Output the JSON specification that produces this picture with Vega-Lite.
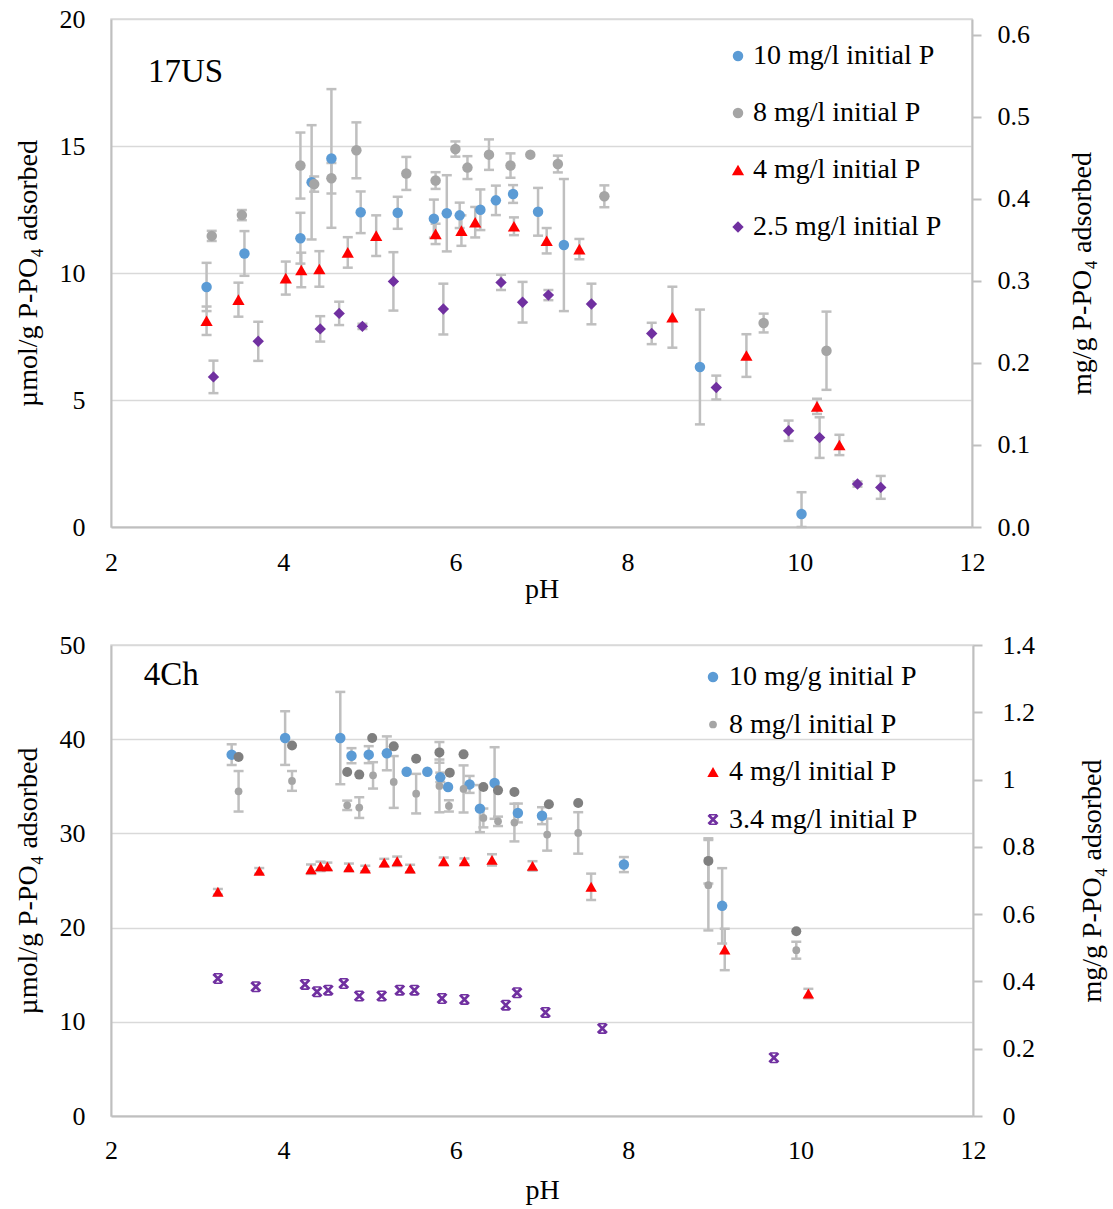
{
  "$schema": "https://vega.github.io/schema/vega-lite/v6.json",
  "padding": {"left": 13, "top": 5, "right": 5, "bottom": 3},
  "background": "white",
  "datasets": {
    "top": [
      {"s": "10 mg/l initial P", "pH": 3.11, "v": 9.45, "lo": 8.5, "hi": 10.4},
      {"s": "10 mg/l initial P", "pH": 3.55, "v": 10.77, "lo": 9.89, "hi": 11.65},
      {"s": "10 mg/l initial P", "pH": 4.2, "v": 11.37, "lo": 10.37, "hi": 12.37},
      {"s": "10 mg/l initial P", "pH": 4.33, "v": 13.57, "lo": 11.32, "hi": 15.82},
      {"s": "10 mg/l initial P", "pH": 4.56, "v": 14.51, "lo": 11.78, "hi": 17.24},
      {"s": "10 mg/l initial P", "pH": 4.9, "v": 12.39, "lo": 11.57, "hi": 13.21},
      {"s": "10 mg/l initial P", "pH": 5.33, "v": 12.37, "lo": 11.74, "hi": 13.0},
      {"s": "10 mg/l initial P", "pH": 5.75, "v": 12.14, "lo": 11.39, "hi": 12.89},
      {"s": "10 mg/l initial P", "pH": 5.9, "v": 12.35, "lo": 10.85, "hi": 13.85},
      {"s": "10 mg/l initial P", "pH": 6.05, "v": 12.27, "lo": 11.77, "hi": 12.77},
      {"s": "10 mg/l initial P", "pH": 6.29, "v": 12.49, "lo": 11.69, "hi": 13.29},
      {"s": "10 mg/l initial P", "pH": 6.47, "v": 12.86, "lo": 12.28, "hi": 13.44},
      {"s": "10 mg/l initial P", "pH": 6.67, "v": 13.11, "lo": 12.76, "hi": 13.46},
      {"s": "10 mg/l initial P", "pH": 6.96, "v": 12.41, "lo": 11.47, "hi": 13.35},
      {"s": "10 mg/l initial P", "pH": 7.26, "v": 11.1, "lo": 8.5, "hi": 13.7},
      {"s": "10 mg/l initial P", "pH": 8.84, "v": 6.3, "lo": 4.04, "hi": 8.56},
      {"s": "10 mg/l initial P", "pH": 10.02, "v": 0.51, "lo": 0, "hi": 1.37},
      {"s": "8 mg/l initial P", "pH": 3.17, "v": 11.46, "lo": 11.26, "hi": 11.66},
      {"s": "8 mg/l initial P", "pH": 3.52, "v": 12.28, "lo": 12.08, "hi": 12.48},
      {"s": "8 mg/l initial P", "pH": 4.2, "v": 14.23, "lo": 12.93, "hi": 15.53},
      {"s": "8 mg/l initial P", "pH": 4.36, "v": 13.5, "lo": 13.2, "hi": 13.8},
      {"s": "8 mg/l initial P", "pH": 4.56, "v": 13.73, "lo": 13.13, "hi": 14.33},
      {"s": "8 mg/l initial P", "pH": 4.85, "v": 14.83, "lo": 13.73, "hi": 15.93},
      {"s": "8 mg/l initial P", "pH": 5.43, "v": 13.92, "lo": 13.27, "hi": 14.57},
      {"s": "8 mg/l initial P", "pH": 5.77, "v": 13.64, "lo": 13.31, "hi": 13.97},
      {"s": "8 mg/l initial P", "pH": 6.0, "v": 14.88, "lo": 14.58, "hi": 15.18},
      {"s": "8 mg/l initial P", "pH": 6.14, "v": 14.15, "lo": 13.7, "hi": 14.6},
      {"s": "8 mg/l initial P", "pH": 6.39, "v": 14.66, "lo": 14.06, "hi": 15.26},
      {"s": "8 mg/l initial P", "pH": 6.64, "v": 14.23, "lo": 13.75, "hi": 14.71},
      {"s": "8 mg/l initial P", "pH": 6.87, "v": 14.66},
      {"s": "8 mg/l initial P", "pH": 7.19, "v": 14.29, "lo": 13.96, "hi": 14.62},
      {"s": "8 mg/l initial P", "pH": 7.73, "v": 13.02, "lo": 12.59, "hi": 13.45},
      {"s": "8 mg/l initial P", "pH": 9.58, "v": 8.03, "lo": 7.66, "hi": 8.4},
      {"s": "8 mg/l initial P", "pH": 10.31, "v": 6.94, "lo": 5.4, "hi": 8.48},
      {"s": "4 mg/l initial P", "pH": 3.11, "v": 8.12, "lo": 7.56, "hi": 8.68},
      {"s": "4 mg/l initial P", "pH": 3.48, "v": 8.95, "lo": 8.28, "hi": 9.62},
      {"s": "4 mg/l initial P", "pH": 4.03, "v": 9.8, "lo": 9.15, "hi": 10.45},
      {"s": "4 mg/l initial P", "pH": 4.21, "v": 10.12, "lo": 9.44, "hi": 10.8},
      {"s": "4 mg/l initial P", "pH": 4.42, "v": 10.16, "lo": 9.46, "hi": 10.86},
      {"s": "4 mg/l initial P", "pH": 4.75, "v": 10.81, "lo": 10.21, "hi": 11.41},
      {"s": "4 mg/l initial P", "pH": 5.08, "v": 11.47, "lo": 10.67, "hi": 12.27},
      {"s": "4 mg/l initial P", "pH": 5.77, "v": 11.54, "lo": 11.14, "hi": 11.94},
      {"s": "4 mg/l initial P", "pH": 6.07, "v": 11.67, "lo": 11.07, "hi": 12.27},
      {"s": "4 mg/l initial P", "pH": 6.23, "v": 12.0, "lo": 11.4, "hi": 12.6},
      {"s": "4 mg/l initial P", "pH": 6.68, "v": 11.84, "lo": 11.49, "hi": 12.19},
      {"s": "4 mg/l initial P", "pH": 7.06, "v": 11.27, "lo": 10.77, "hi": 11.77},
      {"s": "4 mg/l initial P", "pH": 7.44, "v": 10.94, "lo": 10.54, "hi": 11.34},
      {"s": "4 mg/l initial P", "pH": 8.52, "v": 8.26, "lo": 7.06, "hi": 9.46},
      {"s": "4 mg/l initial P", "pH": 9.38, "v": 6.75, "lo": 5.91, "hi": 7.59},
      {"s": "4 mg/l initial P", "pH": 10.2, "v": 4.75, "lo": 4.45, "hi": 5.05},
      {"s": "4 mg/l initial P", "pH": 10.46, "v": 3.23, "lo": 2.83, "hi": 3.63},
      {"s": "2.5 mg/l initial P", "pH": 3.19, "v": 5.91, "lo": 5.27, "hi": 6.55},
      {"s": "2.5 mg/l initial P", "pH": 3.71, "v": 7.31, "lo": 6.54, "hi": 8.08},
      {"s": "2.5 mg/l initial P", "pH": 4.43, "v": 7.8, "lo": 7.3, "hi": 8.3},
      {"s": "2.5 mg/l initial P", "pH": 4.65, "v": 8.41, "lo": 7.95, "hi": 8.87},
      {"s": "2.5 mg/l initial P", "pH": 4.92, "v": 7.9, "lo": 7.8, "hi": 8.0},
      {"s": "2.5 mg/l initial P", "pH": 5.28, "v": 9.67, "lo": 8.52, "hi": 10.82},
      {"s": "2.5 mg/l initial P", "pH": 5.86, "v": 8.58, "lo": 7.58, "hi": 9.58},
      {"s": "2.5 mg/l initial P", "pH": 6.53, "v": 9.63, "lo": 9.33, "hi": 9.93},
      {"s": "2.5 mg/l initial P", "pH": 6.78, "v": 8.85, "lo": 8.05, "hi": 9.65},
      {"s": "2.5 mg/l initial P", "pH": 7.08, "v": 9.13, "lo": 8.93, "hi": 9.33},
      {"s": "2.5 mg/l initial P", "pH": 7.58, "v": 8.78, "lo": 7.98, "hi": 9.58},
      {"s": "2.5 mg/l initial P", "pH": 8.28, "v": 7.62, "lo": 7.2, "hi": 8.04},
      {"s": "2.5 mg/l initial P", "pH": 9.03, "v": 5.49, "lo": 5.02, "hi": 5.96},
      {"s": "2.5 mg/l initial P", "pH": 9.87, "v": 3.79, "lo": 3.39, "hi": 4.19},
      {"s": "2.5 mg/l initial P", "pH": 10.23, "v": 3.52, "lo": 2.72, "hi": 4.32},
      {"s": "2.5 mg/l initial P", "pH": 10.67, "v": 1.69, "lo": 1.59, "hi": 1.79},
      {"s": "2.5 mg/l initial P", "pH": 10.94, "v": 1.56, "lo": 1.11, "hi": 2.01}
    ],
    "bot": [
      {"s": "10 mg/g initial P", "pH": 3.4, "v": 38.36, "lo": 37.26, "hi": 39.46},
      {"s": "10 mg/g initial P", "pH": 4.02, "v": 40.12, "lo": 37.27, "hi": 42.97},
      {"s": "10 mg/g initial P", "pH": 4.66, "v": 40.12, "lo": 35.22, "hi": 45.02},
      {"s": "10 mg/g initial P", "pH": 4.79, "v": 38.25, "lo": 37.45, "hi": 39.05},
      {"s": "10 mg/g initial P", "pH": 4.99, "v": 38.36, "lo": 37.46, "hi": 39.26},
      {"s": "10 mg/g initial P", "pH": 5.2, "v": 38.5, "lo": 36.7, "hi": 40.3},
      {"s": "10 mg/g initial P", "pH": 5.43, "v": 36.55},
      {"s": "10 mg/g initial P", "pH": 5.67, "v": 36.55},
      {"s": "10 mg/g initial P", "pH": 5.82, "v": 35.95, "lo": 35.45, "hi": 36.45},
      {"s": "10 mg/g initial P", "pH": 5.91, "v": 34.93},
      {"s": "10 mg/g initial P", "pH": 6.16, "v": 35.2, "lo": 34.3, "hi": 36.1},
      {"s": "10 mg/g initial P", "pH": 6.28, "v": 32.63, "lo": 30.13, "hi": 35.13},
      {"s": "10 mg/g initial P", "pH": 6.45, "v": 35.35, "lo": 31.55, "hi": 39.15},
      {"s": "10 mg/g initial P", "pH": 6.72, "v": 32.17, "lo": 31.17, "hi": 33.17},
      {"s": "10 mg/g initial P", "pH": 7.0, "v": 31.88, "lo": 30.98, "hi": 32.78},
      {"s": "10 mg/g initial P", "pH": 7.95, "v": 26.69, "lo": 25.89, "hi": 27.49},
      {"s": "10 mg/g initial P", "pH": 9.09, "v": 22.31, "lo": 18.31, "hi": 26.31},
      {"s": "8 mg/l initial P", "pH": 3.48, "v": 34.47, "lo": 32.32, "hi": 36.62},
      {"s": "8 mg/l initial P", "pH": 4.1, "v": 35.57, "lo": 34.52, "hi": 36.62},
      {"s": "8 mg/l initial P", "pH": 4.74, "v": 32.98, "lo": 32.48, "hi": 33.48},
      {"s": "8 mg/l initial P", "pH": 4.88, "v": 32.74, "lo": 31.64, "hi": 33.84},
      {"s": "8 mg/l initial P", "pH": 5.04, "v": 36.16, "lo": 34.76, "hi": 37.56},
      {"s": "8 mg/l initial P", "pH": 5.28, "v": 35.46, "lo": 32.71, "hi": 38.21},
      {"s": "8 mg/l initial P", "pH": 5.54, "v": 34.22, "lo": 32.12, "hi": 36.32},
      {"s": "8 mg/l initial P", "pH": 5.81, "v": 35.04, "lo": 32.24, "hi": 37.84},
      {"s": "8 mg/l initial P", "pH": 5.92, "v": 32.92, "lo": 32.32, "hi": 33.52},
      {"s": "8 mg/l initial P", "pH": 6.09, "v": 34.72, "lo": 32.22, "hi": 37.22},
      {"s": "8 mg/l initial P", "pH": 6.32, "v": 31.64, "lo": 30.64, "hi": 32.64},
      {"s": "8 mg/l initial P", "pH": 6.49, "v": 31.28, "lo": 30.78, "hi": 31.78},
      {"s": "8 mg/l initial P", "pH": 6.68, "v": 31.15, "lo": 29.15, "hi": 33.15},
      {"s": "8 mg/l initial P", "pH": 7.06, "v": 29.87, "lo": 28.17, "hi": 31.57},
      {"s": "8 mg/l initial P", "pH": 7.42, "v": 30.05, "lo": 27.85, "hi": 32.25},
      {"s": "8 mg/l initial P", "pH": 8.93, "v": 24.5, "lo": 19.7, "hi": 29.3},
      {"s": "8 mg/l initial P", "pH": 9.95, "v": 17.6, "lo": 16.7, "hi": 18.5},
      {"s": "8 mg/l initial P (2)", "pH": 3.48, "v": 38.11},
      {"s": "8 mg/l initial P (2)", "pH": 4.1, "v": 39.34},
      {"s": "8 mg/l initial P (2)", "pH": 4.74, "v": 36.52},
      {"s": "8 mg/l initial P (2)", "pH": 4.88, "v": 36.24},
      {"s": "8 mg/l initial P (2)", "pH": 5.03, "v": 40.12},
      {"s": "8 mg/l initial P (2)", "pH": 5.28, "v": 39.24},
      {"s": "8 mg/l initial P (2)", "pH": 5.54, "v": 37.93},
      {"s": "8 mg/l initial P (2)", "pH": 5.81, "v": 38.6, "lo": 37.5, "hi": 39.7},
      {"s": "8 mg/l initial P (2)", "pH": 5.93, "v": 36.45},
      {"s": "8 mg/l initial P (2)", "pH": 6.09, "v": 38.39},
      {"s": "8 mg/l initial P (2)", "pH": 6.32, "v": 34.93},
      {"s": "8 mg/l initial P (2)", "pH": 6.49, "v": 34.57},
      {"s": "8 mg/l initial P (2)", "pH": 6.68, "v": 34.4},
      {"s": "8 mg/l initial P (2)", "pH": 7.08, "v": 33.09},
      {"s": "8 mg/l initial P (2)", "pH": 7.42, "v": 33.23},
      {"s": "8 mg/l initial P (2)", "pH": 8.93, "v": 27.08, "lo": 24.68, "hi": 29.48},
      {"s": "8 mg/l initial P (2)", "pH": 9.95, "v": 19.62},
      {"s": "4 mg/l initial P", "pH": 3.24, "v": 23.8, "lo": 23.5, "hi": 24.1},
      {"s": "4 mg/l initial P", "pH": 3.72, "v": 26.02, "lo": 25.72, "hi": 26.32},
      {"s": "4 mg/l initial P", "pH": 4.32, "v": 26.2, "lo": 25.7, "hi": 26.7},
      {"s": "4 mg/l initial P", "pH": 4.43, "v": 26.5, "lo": 26.0, "hi": 27.0},
      {"s": "4 mg/l initial P", "pH": 4.51, "v": 26.5, "lo": 26.1, "hi": 26.9},
      {"s": "4 mg/l initial P", "pH": 4.76, "v": 26.4, "lo": 26.0, "hi": 26.8},
      {"s": "4 mg/l initial P", "pH": 4.95, "v": 26.27, "lo": 25.97, "hi": 26.57},
      {"s": "4 mg/l initial P", "pH": 5.17, "v": 26.9, "lo": 26.5, "hi": 27.3},
      {"s": "4 mg/l initial P", "pH": 5.32, "v": 27.04, "lo": 26.54, "hi": 27.54},
      {"s": "4 mg/l initial P", "pH": 5.47, "v": 26.27, "lo": 25.87, "hi": 26.67},
      {"s": "4 mg/l initial P", "pH": 5.86, "v": 27.04, "lo": 26.64, "hi": 27.44},
      {"s": "4 mg/l initial P", "pH": 6.1, "v": 27.04, "lo": 26.74, "hi": 27.34},
      {"s": "4 mg/l initial P", "pH": 6.42, "v": 27.19, "lo": 26.59, "hi": 27.79},
      {"s": "4 mg/l initial P", "pH": 6.89, "v": 26.55, "lo": 26.05, "hi": 27.05},
      {"s": "4 mg/l initial P", "pH": 7.57, "v": 24.33, "lo": 22.93, "hi": 25.73},
      {"s": "4 mg/l initial P", "pH": 9.12, "v": 17.68, "lo": 15.48, "hi": 19.88},
      {"s": "4 mg/l initial P", "pH": 10.09, "v": 13.0, "lo": 12.5, "hi": 13.5},
      {"s": "3.4 mg/l initial P", "pH": 3.24, "v": 14.6},
      {"s": "3.4 mg/l initial P", "pH": 3.68, "v": 13.72},
      {"s": "3.4 mg/l initial P", "pH": 4.25, "v": 13.97},
      {"s": "3.4 mg/l initial P", "pH": 4.39, "v": 13.19},
      {"s": "3.4 mg/l initial P", "pH": 4.52, "v": 13.36},
      {"s": "3.4 mg/l initial P", "pH": 4.7, "v": 14.07},
      {"s": "3.4 mg/l initial P", "pH": 4.88, "v": 12.73},
      {"s": "3.4 mg/l initial P", "pH": 5.14, "v": 12.73},
      {"s": "3.4 mg/l initial P", "pH": 5.35, "v": 13.36},
      {"s": "3.4 mg/l initial P", "pH": 5.52, "v": 13.36},
      {"s": "3.4 mg/l initial P", "pH": 5.84, "v": 12.48},
      {"s": "3.4 mg/l initial P", "pH": 6.1, "v": 12.38},
      {"s": "3.4 mg/l initial P", "pH": 6.58, "v": 11.77},
      {"s": "3.4 mg/l initial P", "pH": 6.71, "v": 13.08},
      {"s": "3.4 mg/l initial P", "pH": 7.04, "v": 11.0},
      {"s": "3.4 mg/l initial P", "pH": 7.7, "v": 9.3},
      {"s": "3.4 mg/l initial P", "pH": 9.69, "v": 6.19}
    ]
  },
  "spacing": 27,
  "vconcat": [
    {
      "width": 861,
      "height": 508,
      "layer": [
        {
          "data": {"name": "top"},
          "encoding": {
            "x": {"field": "pH", "type": "quantitative", "scale": {"domain": [2, 12], "nice": false},
              "axis": {"values": [2, 4, 6, 8, 10, 12], "format": "d", "title": "pH", "grid": false, "ticks": false, "labelPadding": 22, "titlePadding": 0}}
          },
          "layer": [
            {"mark": {"type": "rule", "color": "#BFBFBF", "strokeWidth": 2.5},
              "encoding": {
                "y": {"field": "lo", "type": "quantitative", "scale": {"domain": [0, 20], "nice": false}, "title": "µmol/g P-PO₄ adsorbed",
                  "axis": {"values": [0, 5, 10, 15, 20], "ticks": false, "labelPadding": 26, "titlePadding": 17}},
                "y2": {"field": "hi"}
              }},
            {"mark": {"type": "tick", "orient": "horizontal", "color": "#BFBFBF", "thickness": 2.5, "size": 10, "opacity": 1},
              "encoding": {"y": {"field": "lo", "type": "quantitative", "scale": {"domain": [0, 20], "nice": false}, "title": "µmol/g P-PO₄ adsorbed"}}},
            {"mark": {"type": "tick", "orient": "horizontal", "color": "#BFBFBF", "thickness": 2.5, "size": 10, "opacity": 1},
              "encoding": {"y": {"field": "hi", "type": "quantitative", "scale": {"domain": [0, 20], "nice": false}, "title": "µmol/g P-PO₄ adsorbed"}}},
            {"mark": {"type": "point", "filled": true, "opacity": 1},
              "encoding": {
                "y": {"field": "v", "type": "quantitative", "scale": {"domain": [0, 20], "nice": false}, "title": "µmol/g P-PO₄ adsorbed"},
                "color": {"field": "s", "type": "nominal",
                  "scale": {"domain": ["10 mg/l initial P", "8 mg/l initial P", "4 mg/l initial P", "2.5 mg/l initial P"], "range": ["#5B9BD5", "#A5A5A5", "#FF0000", "#7030A0"]},
                  "legend": {"title": null, "orient": "none", "legendX": 613, "legendY": 23, "padding": 0, "rowPadding": 29, "labelOffset": 1, "symbolSize": 110}},
                "shape": {"field": "s", "type": "nominal",
                  "scale": {"domain": ["10 mg/l initial P", "8 mg/l initial P", "4 mg/l initial P", "2.5 mg/l initial P"], "range": ["circle", "circle", "triangle-up", "diamond"]}},
                "size": {"field": "s", "type": "nominal",
                  "scale": {"type": "ordinal", "domain": ["10 mg/l initial P", "8 mg/l initial P", "4 mg/l initial P", "2.5 mg/l initial P"], "range": [110, 110, 150, 130]}, "legend": null}
              }}
          ]
        },
        {
          "data": {"values": [{"t": "17US"}]},
          "mark": {"type": "text", "fontSize": 33, "align": "left", "baseline": "middle", "font": "Liberation Serif", "fill": "#000000"},
          "encoding": {
            "x": {"datum": 2.43, "type": "quantitative"},
            "y": {"datum": 17.9, "type": "quantitative", "scale": {"domain": [0, 20], "nice": false}, "axis": null},
            "text": {"field": "t", "type": "nominal"}
          }
        },
        {
          "data": {"values": [{"t": "r"}]},
          "mark": {"type": "rule", "opacity": 0},
          "encoding": {
            "y": {"datum": 0, "type": "quantitative", "scale": {"domain": [0, 0.6194], "nice": false},
              "axis": {"orient": "right", "values": [0, 0.1, 0.2, 0.3, 0.4, 0.5, 0.6], "format": ".1f", "title": "mg/g P-PO₄ adsorbed", "grid": false, "ticks": true, "tickSize": 9, "labelPadding": 16, "titlePadding": 67, "titleAngle": 270}}
          }
        }
      ],
      "resolve": {"scale": {"y": "independent"}}
    },
    {
      "width": 862,
      "height": 471,
      "layer": [
        {
          "data": {"name": "bot"},
          "encoding": {
            "x": {"field": "pH", "type": "quantitative", "scale": {"domain": [2, 12], "nice": false},
              "axis": {"values": [2, 4, 6, 8, 10, 12], "format": "d", "title": "pH", "grid": false, "ticks": false, "labelPadding": 21, "titlePadding": 13}}
          },
          "layer": [
            {"mark": {"type": "rule", "color": "#BFBFBF", "strokeWidth": 2.5},
              "encoding": {
                "y": {"field": "lo", "type": "quantitative", "scale": {"domain": [0, 50], "nice": false}, "title": "µmol/g P-PO₄ adsorbed",
                  "axis": {"values": [0, 10, 20, 30, 40, 50], "ticks": false, "labelPadding": 26, "titlePadding": 17}},
                "y2": {"field": "hi"}
              }},
            {"mark": {"type": "tick", "orient": "horizontal", "color": "#BFBFBF", "thickness": 2.5, "size": 10, "opacity": 1},
              "encoding": {"y": {"field": "lo", "type": "quantitative", "scale": {"domain": [0, 50], "nice": false}, "title": "µmol/g P-PO₄ adsorbed"}}},
            {"mark": {"type": "tick", "orient": "horizontal", "color": "#BFBFBF", "thickness": 2.5, "size": 10, "opacity": 1},
              "encoding": {"y": {"field": "hi", "type": "quantitative", "scale": {"domain": [0, 50], "nice": false}, "title": "µmol/g P-PO₄ adsorbed"}}},
            {"mark": {"type": "point", "filled": true, "opacity": 1},
              "encoding": {
                "y": {"field": "v", "type": "quantitative", "scale": {"domain": [0, 50], "nice": false}, "title": "µmol/g P-PO₄ adsorbed"},
                "color": {"field": "s", "type": "nominal",
                  "scale": {"domain": ["10 mg/g initial P", "8 mg/l initial P", "8 mg/l initial P (2)", "4 mg/l initial P", "3.4 mg/l initial P"], "range": ["#5B9BD5", "#A5A5A5", "#7F7F7F", "#FF0000", "#7030A0"]},
                  "legend": {"title": null, "orient": "none", "legendX": 588, "legendY": 18, "padding": 0, "rowPadding": 19.5, "labelOffset": 2, "symbolSize": 110,
                    "values": ["10 mg/g initial P", "8 mg/l initial P", "4 mg/l initial P", "3.4 mg/l initial P"]}},
                "shape": {"field": "s", "type": "nominal",
                  "scale": {"domain": ["10 mg/g initial P", "8 mg/l initial P", "8 mg/l initial P (2)", "4 mg/l initial P", "3.4 mg/l initial P"],
                    "range": ["circle", "circle", "circle", "triangle-up", "M-1,-0.65L-0.65,-1L1,0.65L0.65,1ZM0.65,-1L1,-0.65L-0.65,1L-1,0.65ZM-0.6,-1L0.6,-1L0.6,-0.72L-0.6,-0.72ZM-0.6,0.72L0.6,0.72L0.6,1L-0.6,1Z"]}},
                "size": {"field": "s", "type": "nominal",
                  "scale": {"type": "ordinal", "domain": ["10 mg/g initial P", "8 mg/l initial P", "8 mg/l initial P (2)", "4 mg/l initial P", "3.4 mg/l initial P"], "range": [110, 60, 100, 130, 121]}, "legend": null}
              }}
          ]
        },
        {
          "data": {"values": [{"t": "4Ch"}]},
          "mark": {"type": "text", "fontSize": 33, "align": "left", "baseline": "middle", "font": "Liberation Serif", "fill": "#000000"},
          "encoding": {
            "x": {"datum": 2.38, "type": "quantitative"},
            "y": {"datum": 46.8, "type": "quantitative", "scale": {"domain": [0, 50], "nice": false}, "axis": null},
            "text": {"field": "t", "type": "nominal"}
          }
        },
        {
          "data": {"values": [{"t": "r"}]},
          "mark": {"type": "rule", "opacity": 0},
          "encoding": {
            "y": {"datum": 0, "type": "quantitative", "scale": {"domain": [0, 1.4], "nice": false},
              "axis": {"orient": "right", "values": [0, 0.2, 0.4, 0.6, 0.8, 1, 1.2, 1.4], "format": ".1~f", "title": "mg/g P-PO₄ adsorbed", "grid": false, "ticks": true, "tickSize": 9, "labelPadding": 20, "titlePadding": 72, "titleAngle": 270}}
          }
        }
      ],
      "resolve": {"scale": {"y": "independent"}}
    }
  ],
  "resolve": {"scale": {"color": "independent", "shape": "independent", "size": "independent"}, "legend": {"color": "independent", "shape": "independent"}},
  "config": {
    "font": "Liberation Serif",
    "view": {"stroke": "#D9D9D9", "strokeWidth": 1.5},
    "axis": {"labelFont": "Liberation Serif", "titleFont": "Liberation Serif", "labelFontSize": 26, "titleFontSize": 28, "labelColor": "#000000", "titleColor": "#000000", "titleFontWeight": "normal", "domainColor": "#BFBFBF", "domainWidth": 2, "gridColor": "#D9D9D9", "gridWidth": 1.5, "tickColor": "#BFBFBF", "tickWidth": 2, "labelOverlap": false, "labelFlush": false},
    "legend": {"labelFont": "Liberation Serif", "labelFontSize": 28, "labelColor": "#000000", "labelLimit": 400},
    "text": {"font": "Liberation Serif"}
  }
}
